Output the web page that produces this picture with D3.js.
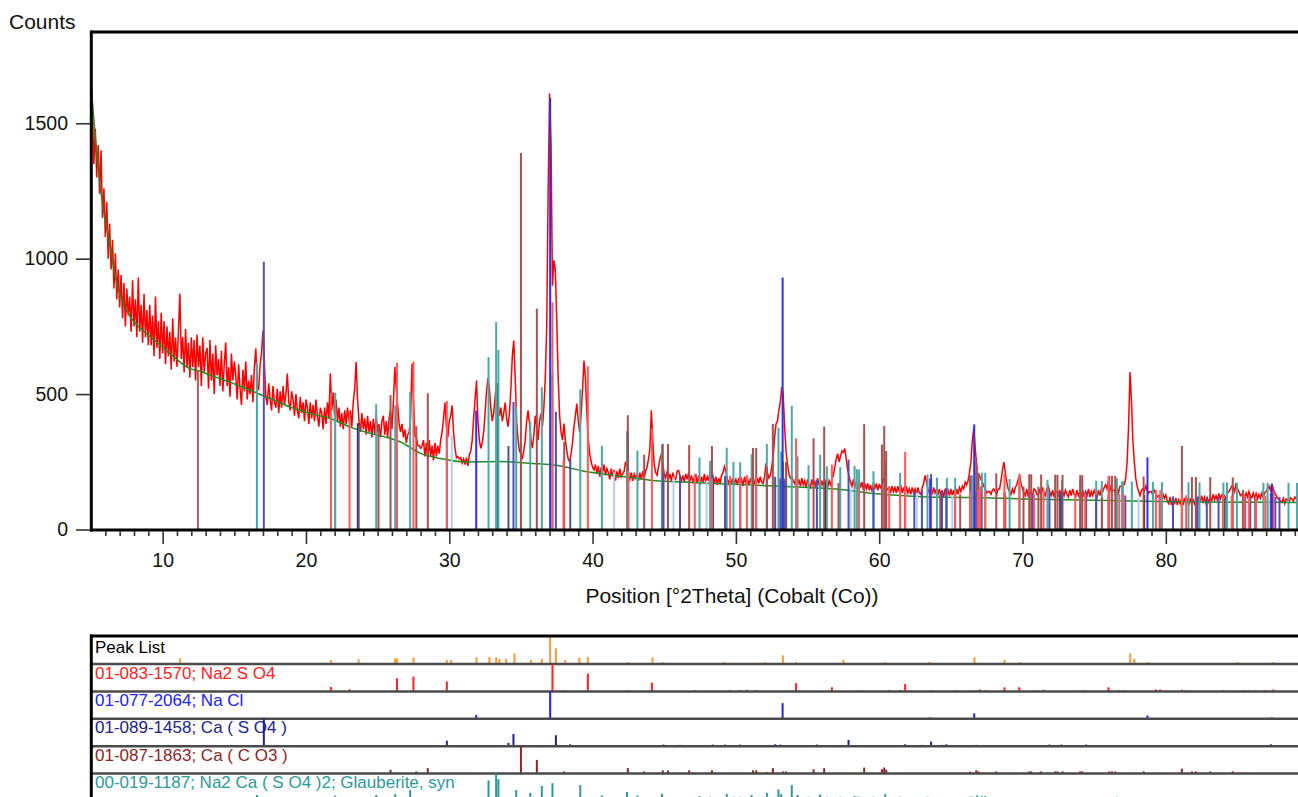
<!DOCTYPE html>
<html>
<head>
<meta charset="utf-8">
<script src="https://cdn.jsdelivr.net/npm/d3@7"></script>
<style>
  body { margin: 0; background: #fff; }
  svg { display: block; font-family: "Liberation Sans", Arial, sans-serif; }
</style>
</head>
<body>
<div id="chart"></div>
<script>
// measured scan: start angle, step and counts (5.0 .. 90.0 °2Theta)
var scanStart = 5, scanStep = 0.1;
var counts = [1650,
  1560,1350,1480,1300,1420,1240,1400,1150,1260,1080, // 5.1-6.0
  1210,1000,1130,960,1070,890,1020,850,960,820,
  940,780,910,750,890,790,860,730,920,750,
  850,710,930,730,830,690,870,710,810,680,
  830,680,790,640,860,670,770,630,800,650,          // 9.1-10.0
  770,610,750,640,730,590,780,620,710,600,
  730,870,630,710,580,740,600,690,560,710,
  600,700,550,720,600,680,530,710,580,650,
  670,520,700,550,650,500,680,570,630,530,
  660,510,610,690,530,600,490,650,550,620,
  570,480,610,520,460,590,510,620,480,550,
  500,570,470,600,668,530,520,610,650,735,
  610,490,460,540,480,440,530,470,450,520,
  430,510,450,530,460,500,576,470,440,510,
  480,420,500,440,410,490,430,470,400,480,          // 19.1-20.0
  450,390,470,410,460,400,480,420,380,450,
  430,370,450,390,470,410,576,440,506,420,
  480,400,450,380,430,370,440,390,450,400,
  440,380,470,520,618,480,400,360,430,370,
  410,350,420,360,400,340,410,350,425,360,
  390,340,400,420,350,400,340,410,440,370,
  470,600,520,460,390,360,390,340,370,320,
  350,360,410,613,480,350,340,310,310,300,
  310,330,270,320,260,330,270,310,255,320,
  270,310,280,330,360,410,469,380,340,400,          // 29.1-30.0
  420,458,360,300,265,270,260,265,245,260,
  240,265,235,275,290,330,410,480,550,400,
  330,300,320,360,430,510,560,520,450,400,
  430,490,540,470,420,450,400,430,469,410,
  380,430,520,640,698,560,400,330,290,280,
  260,290,330,400,440,390,330,300,350,420,
  380,330,400,428,380,450,560,750,1250,1610,
  1420,900,994,960,772,560,420,360,330,391,
  330,290,260,250,280,320,380,420,465,400,
  360,420,520,624,560,430,330,280,250,230,          // 39.1-40.0
  220,240,205,235,195,230,210,240,200,225,
  210,185,225,195,220,180,215,190,225,195,
  205,215,250,230,200,185,210,180,205,190,
  205,180,210,185,215,190,215,230,260,300,
  440,330,240,210,200,230,260,280,240,205,
  190,215,185,205,180,210,190,185,215,218,
  200,180,200,175,205,185,210,180,200,175,
  190,205,170,200,165,195,175,205,170,195,
  180,215,230,195,170,195,165,190,170,200,
  210,233,215,185,170,195,165,190,170,185,          // 49.1-50.0
  165,190,170,185,160,195,170,190,165,185,
  170,195,170,165,190,170,195,175,170,195,
  244,210,190,200,230,270,340,390,400,440,
  470,526,500,380,290,240,205,190,195,180,
  170,195,165,185,160,190,165,180,155,185,
  165,155,185,160,180,155,190,165,155,180,
  160,185,165,155,180,165,185,200,230,260,
  280,250,270,290,285,299,260,220,195,175,
  160,185,155,175,150,180,155,175,145,170,
  150,170,145,165,140,175,150,170,145,165,          // 59.1-60.0
  155,170,190,165,145,150,155,135,160,140,
  155,135,160,140,165,135,155,130,160,135,
  150,130,155,135,150,125,155,135,130,155,
  170,200,175,150,135,150,130,155,135,150,
  130,150,125,145,120,150,130,145,125,150,
  125,145,120,150,130,155,140,160,150,175,
  165,180,210,250,330,374,300,240,195,200,
  185,175,160,150,135,140,140,130,145,150,
  140,130,150,150,180,220,249,210,175,150,
  140,130,150,135,155,165,185,200,170,150,          // 69.1-70.0
  135,125,150,120,140,135,125,150,145,130,
  125,150,130,155,135,125,150,160,135,125,
  145,120,140,140,125,145,120,140,125,145,
  130,120,145,125,150,130,120,145,125,140,
  125,145,120,140,125,150,120,140,125,145,
  130,120,145,125,150,140,155,165,150,181,
  160,140,145,145,130,150,135,160,160,165,
  165,190,250,380,581,480,330,250,190,160,
  140,125,145,150,140,160,145,135,140,140,
  125,145,135,120,125,125,110,130,115,128,          // 79.1-80.0
  105,95,120,90,113,93,117,90,110,95,
  113,90,117,95,110,88,115,93,110,95,
  115,93,120,100,125,103,120,97,115,100,
  123,105,130,110,125,107,133,113,127,130,
  125,113,135,140,150,160,155,140,171,150,
  140,125,130,130,115,135,120,140,123,117,
  135,115,133,113,130,115,135,117,135,140,
  150,160,145,169,150,135,125,115,110,105,
  100,115,95,113,110,100,117,113,105,120,
  115,107,123,120,110,125,113,127,110,125           // 89.1-90.0
];

// fitted background (green)
var bgTheta  = [5, 5.3, 5.65, 6, 6.35, 6.7, 7, 7.75, 8.5, 9.15, 10.5, 11.9, 12.6, 13.3, 14.7, 16.1, 17.5, 18.9, 20.3, 21.7, 23.1, 24.5, 25.9, 26.6, 28, 29.4, 31.2, 33.5, 35.85, 37.05, 38.2, 39.4, 40.5, 42.9, 44, 46, 50.3, 55, 57.3, 59.6, 62, 64.3, 66.4, 70, 75, 79.6, 85, 90];
var bgCounts = [1640, 1450, 1265, 1140, 1043, 930, 870, 785, 740, 711, 650, 594, 585, 570, 544, 514, 484, 452, 428, 410, 378, 355, 336, 323, 281, 262, 249, 251, 244, 240, 230, 215, 207, 190, 182, 176, 166, 155, 148, 133, 124, 119, 118, 113, 108, 103, 101, 100];

var xMajorTicks = [10, 20, 30, 40, 50, 60, 70, 80];
var yTicks = [0, 500, 1000, 1500];

// reference patterns: [position °2Theta, relative intensity %]
var peakList = [[11.22,20],[18.78,3],[21.74,14],[23.04,3],[23.67,17],[26.2,20],[26.35,20],[27.5,23],[29.83,14],[30.13,14],[31.9,24],[32.8,26],[33.27,24],[33.5,18],[33.97,18],[34.55,38],[35.7,14],[36.46,18],[37.04,100],[37.44,56],[38.09,14],[39.07,23],[39.67,26],[41.46,2],[42.46,7],[44.18,23],[44.9,7],[46.07,4],[49.19,7],[51.19,4],[52.05,7],[53.28,31],[54.19,7],[55.0,4],[55.69,4],[57.51,15],[58.48,4],[59.53,4],[60.42,7],[61.81,4],[63.5,7],[64.68,4],[66.65,24],[67.44,4],[68.74,15],[69.84,7],[71.47,4],[72.47,4],[76.59,4],[77.52,38],[77.8,19],[78.72,7],[79.31,4],[82.1,4],[84.19,4],[85.0,7],[87.51,7]];
var na2so4 = [[21.74,16],[23.04,8],[26.35,48],[27.5,54],[29.83,36],[37.2,100],[37.97,4],[39.67,65],[42.5,4],[44.14,32],[47.13,5],[48.33,3],[49.6,5],[50.3,5],[50.77,6],[51.4,5],[54.2,30],[56.7,15],[58.56,3],[60.7,5],[61.46,5],[61.81,27],[63.6,4],[65.3,4],[66.35,4],[66.88,5],[67.05,7],[67.4,4],[68.74,15],[69.77,15],[70.81,3],[71.47,6],[73.68,3],[74.37,4],[76.0,15],[76.75,4],[77.05,4],[79.31,7],[79.61,7],[81.12,6],[81.42,4],[83.98,4],[84.6,4],[85.49,4],[85.81,4],[86.29,4],[86.94,4],[87.51,7]];
var nacl = [[31.88,14],[37.04,100],[53.26,57],[63.56,5],[66.63,20],[78.72,12],[87.4,5]];
var caso4 = [[17.06,100],[23.68,3],[29.83,20],[34.13,12],[34.48,45],[37.44,40],[38.44,7],[44.95,6],[46.1,5],[48.38,6],[49.25,6],[50.3,6],[52.74,7],[53.1,6],[53.5,4],[55.65,6],[57.86,23],[59.6,4],[61.81,7],[62.45,4],[62.98,5],[63.62,17],[64.38,5],[64.68,7],[66.77,5],[67.1,4],[70.72,4],[71.88,6],[72.71,6],[74.44,6],[75.14,4],[76.0,4],[77.17,4],[79.57,4],[80.5,4],[82.21,4],[82.86,4],[83.68,4],[85.54,4],[85.89,4],[86.24,4],[87.33,7],[87.64,4],[87.93,4]];
var caco3 = [[25.06,3],[25.9,14],[27.7,8],[28.5,20],[35.0,100],[36.11,50],[38.02,8],[42.46,20],[43.6,8],[44.9,12],[45.26,12],[46.74,12],[48.33,12],[49.25,2],[51.19,12],[51.42,12],[52.16,6],[52.58,20],[53.28,8],[53.5,8],[55.42,16],[56.16,20],[57.16,2],[58.95,22],[60.19,16],[60.35,22],[60.49,14],[64.26,1],[65.65,1],[66.35,7],[66.77,12],[66.93,8],[68.17,8],[68.8,1],[70.07,4],[70.47,8],[70.61,8],[71.11,4],[71.3,8],[72.28,8],[72.44,8],[72.79,8],[74.03,8],[74.17,8],[75.54,1],[76.05,8],[76.24,8],[76.47,8],[78.45,8],[81.12,18],[81.82,8],[82.1,8],[83.1,8],[84.67,8],[85.38,4]];
var glauberite = [[16.58,22],[22.04,20],[24.9,22],[26.23,25],[27.27,40],[32.74,75],[33.27,100],[33.43,80],[34.67,40],[35.65,30],[36.46,55],[37.2,65],[39.14,58],[40.65,20],[42.4,33],[43.13,20],[44.84,26],[47.46,18],[48.2,16],[49.36,26],[49.83,16],[50.3,16],[51.1,22],[52.16,30],[52.97,42],[53.16,25],[53.9,58],[54.3,22],[55.07,16],[55.88,24],[56.35,16],[57.28,16],[58.28,18],[58.44,16],[58.6,16],[59.6,16],[60.42,25],[61.46,16],[63.37,16],[64.03,14],[64.72,14],[65.3,14],[66.35,16],[66.47,16],[66.82,20],[67.17,18],[67.4,18],[69.1,14],[69.8,14],[71.74,14],[72.75,14],[74.03,14],[75.14,14],[75.54,14],[76.59,16],[76.94,14],[77.0,14],[77.63,14],[79.1,14],[79.73,14],[81.58,14],[82.35,14],[84.02,14],[84.27,14],[84.96,14],[86.81,14],[87.1,14],[88.56,14],[89.15,14]];
// patterns whose list rows lie below the visible area
var darkPhase = [[23.62,8],[33.32,100],[42.46,57],[44.84,30],[48.4,6],[51.16,29],[53.34,10],[56.23,8],[60.47,10],[66.86,26],[68.74,8],[72.63,6],[78.49,8],[84.1,5]];
var paleBluePhase = [[22.04,20],[30.18,100],[41.5,15],[45.65,20],[47.95,10],[58.0,10],[62.63,15],[65.1,10],[78.1,12],[87.16,10]];
var brownExtra = [[12.46,2]];

var rowLabels = ["Peak List", "01-083-1570; Na2 S O4", "01-077-2064; Na Cl", "01-089-1458; Ca ( S O4 )", "01-087-1863; Ca ( C O3 )", "00-019-1187; Na2 Ca ( S O4 )2; Glauberite, syn"];

// scales
var x = d3.scaleLinear().domain([5, 95]).range([91, 91 + 90 * 14.331]);
var y = d3.scaleLinear().domain([0, 1837]).range([529.5, 32]);
var bg = d3.scaleLinear().domain(bgTheta).range(bgCounts);

var svg = d3.select("#chart").append("svg")
    .attr("width", 1298)
    .attr("height", 797);

svg.append("clipPath").attr("id", "plotclip")
  .append("rect").attr("x", 91).attr("y", 32).attr("width", 1300).attr("height", 498);

var plot = svg.append("g").attr("clip-path", "url(#plotclip)");

// red scan
var scan = counts.map(function(c, i) { return [scanStart + i * scanStep, c]; });
plot.append("path")
    .datum(scan)
    .attr("fill", "none")
    .attr("stroke", "#ff0000")
    .attr("stroke-width", 1.5)
    .attr("d", d3.line().x(function(d) { return x(d[0]); }).y(function(d) { return y(d[1]); }));

// background
var bgPts = bgTheta.map(function(t, i) { return [t, bgCounts[i]]; });
plot.append("path")
    .datum(bgPts)
    .attr("fill", "none")
    .attr("stroke", "#1f8a1f")
    .attr("stroke-width", 1.5)
    .attr("d", d3.line().curve(d3.curveMonotoneX).x(function(d) { return x(d[0]); }).y(function(d) { return y(d[1]); }));

// sticks in the main plot (drawn on top of the background)
var mainPhases = [
  {sticks: paleBluePhase, scale: 90, color: "#b4d0f0"},
  {sticks: darkPhase, scale: 290, color: "#2a2a2a"},
  {sticks: brownExtra, scale: 100, color: "#b05a5a"},
  {sticks: glauberite, scale: 515, color: "#4aa8a8"},
  {sticks: caco3, scale: 1144, color: "#a85050"},
  {sticks: caso4, scale: 495, color: "#5050b0"},
  {sticks: na2so4, scale: 600, color: "#ff5a5a"},
  {sticks: nacl, scale: 1353, color: "#2c2cff"}
];
mainPhases.forEach(function(p) {
  plot.append("g").selectAll("line")
    .data(p.sticks)
    .enter()
    .append("line")
      .attr("x1", function(d) { return x(d[0]); })
      .attr("x2", function(d) { return x(d[0]); })
      .attr("y1", y(0))
      .attr("y2", function(d) { return y(bg(d[0]) + d[1] / 100 * p.scale); })
      .attr("stroke", p.color)
      .attr("stroke-width", 2);
});

// frame
svg.append("line").attr("x1", 91.3).attr("x2", 1298).attr("y1", 32).attr("y2", 32).attr("stroke", "#000").attr("stroke-width", 3);
svg.append("line").attr("x1", 91.3).attr("x2", 91.3).attr("y1", 30.5).attr("y2", 531.5).attr("stroke", "#000").attr("stroke-width", 3);
svg.append("line").attr("x1", 90).attr("x2", 1298).attr("y1", 530).attr("y2", 530).attr("stroke", "#000").attr("stroke-width", 3);

// x axis
var xMinor = d3.range(6, 95).filter(function(v) { return v % 10 !== 0; });
var gxMinor = svg.append("g").attr("transform", "translate(0,531)")
    .call(d3.axisBottom(x).tickValues(xMinor).tickSize(5).tickFormat(""));
var gx = svg.append("g").attr("transform", "translate(0,531)")
    .call(d3.axisBottom(x).tickValues(xMajorTicks).tickSize(13).tickPadding(9).tickFormat(d3.format("d")));
[gx, gxMinor].forEach(function(g) {
  g.select(".domain").remove();
  g.selectAll("line").attr("stroke", "#333").attr("stroke-width", 1.6);
});
gx.selectAll("text").style("font-size", "19.5px").style("font-family", "Liberation Sans, Arial, sans-serif").attr("fill", "#111");

// y axis
var gy = svg.append("g").attr("transform", "translate(90,0)")
    .call(d3.axisLeft(y).tickValues(yTicks).tickSize(14).tickPadding(8).tickFormat(d3.format("d")));
gy.select(".domain").remove();
gy.selectAll("line").attr("stroke", "#333").attr("stroke-width", 1.6);
gy.selectAll("text").style("font-size", "19.5px").style("font-family", "Liberation Sans, Arial, sans-serif").attr("fill", "#111");

// titles
svg.append("text")
    .attr("x", 9)
    .attr("y", 29)
    .style("font-size", "21px")
    .attr("fill", "#111")
    .text("Counts");

svg.append("text")
    .attr("x", 732)
    .attr("y", 603)
    .attr("text-anchor", "middle")
    .style("font-size", "21px")
    .attr("fill", "#111")
    .text("Position [°2Theta] (Cobalt (Co))");

// pattern list panel
var rowTops = [638, 664, 691.4, 718.8, 746.2, 773.6];
var rowH = 27.4;
var rows = [
  {sticks: peakList, color: "#ff9933", text: "#000"},
  {sticks: na2so4, color: "#ff2020", text: "#ff2020"},
  {sticks: nacl, color: "#2020ff", text: "#2020ff"},
  {sticks: caso4, color: "#20208a", text: "#20208a"},
  {sticks: caco3, color: "#8b2525", text: "#8b2525"},
  {sticks: glauberite, color: "#2b9999", text: "#2b9999"}
];

rows.forEach(function(r, i) {
  var bottom = rowTops[i] + (i === 0 ? 26 : rowH);
  var g = svg.append("g");
  g.append("text")
      .attr("x", 95)
      .attr("y", rowTops[i] + 14.5)
      .style("font-size", "17px")
      .attr("fill", r.text)
      .text(rowLabels[i]);
  g.selectAll("line.stick")
    .data(r.sticks)
    .enter()
    .append("line")
      .attr("class", "stick")
      .attr("x1", function(d) { return x(d[0]); })
      .attr("x2", function(d) { return x(d[0]); })
      .attr("y1", bottom)
      .attr("y2", function(d) { return bottom - d[1] / 100 * (i === 0 ? 28 : rowH); })
      .attr("stroke", r.color)
      .attr("stroke-width", 2);
  g.append("line")
      .attr("x1", 91).attr("x2", 1298)
      .attr("y1", bottom).attr("y2", bottom)
      .attr("stroke", "#4a4a4a")
      .attr("stroke-width", 2.5);
});

svg.append("line").attr("x1", 90).attr("x2", 1298).attr("y1", 636).attr("y2", 636).attr("stroke", "#000").attr("stroke-width", 3);
svg.append("line").attr("x1", 91.3).attr("x2", 91.3).attr("y1", 634.5).attr("y2", 797).attr("stroke", "#000").attr("stroke-width", 3);
</script>
</body>
</html>
